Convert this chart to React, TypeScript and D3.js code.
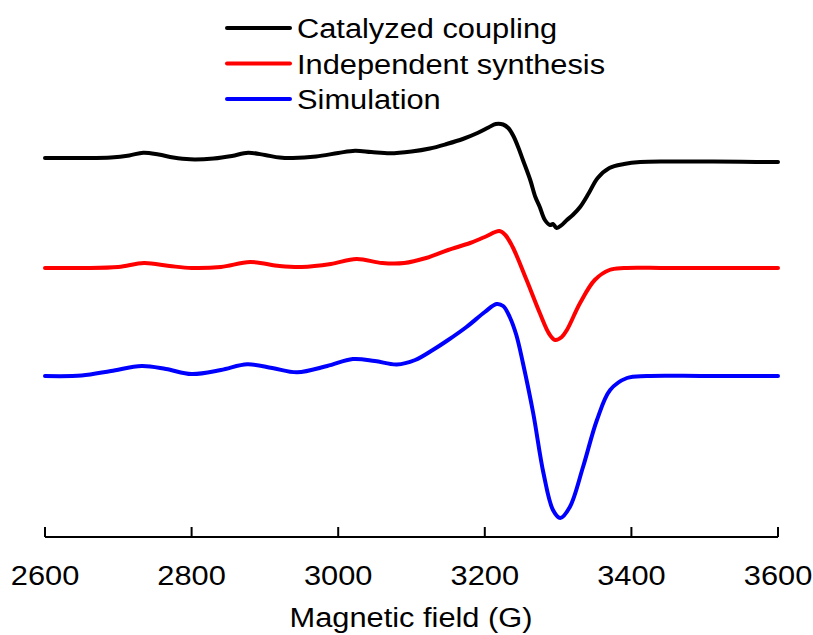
import React from "react";
import * as d3 from "d3";

const W = 813;
const H = 635;

// Magnetic field (G) axis ticks
const xTicks = [2600, 2800, 3000, 3200, 3400, 3600];

// Catalyzed coupling (field G, intensity a.u.)
const fieldBlack = [2600, 2650, 2690, 2715, 2734, 2755, 2775, 2798, 2830, 2855, 2877, 2900, 2920, 2938, 2970, 3000, 3023, 3045, 3071, 3100, 3125, 3148, 3170, 3190, 3205, 3215, 3225, 3232, 3239, 3246, 3252, 3262, 3269, 3275, 3282, 3289, 3293, 3298, 3305, 3312, 3320, 3330, 3342, 3354, 3370, 3390, 3412, 3450, 3500, 3550, 3600];
const sigBlack = [0, 0, 0.5, 2.5, 5.3, 3.5, 0.5, -1.3, -0.5, 2, 5.3, 3, 0.5, 0, 1.5, 5, 7.3, 6, 4.7, 6.5, 9.5, 14, 19, 25, 30.5, 34, 33.5, 30, 22, 10, -2, -22, -39, -49, -62, -67, -66, -70, -67, -62, -57, -49, -35, -20, -10, -6, -4, -3.5, -3.5, -3.8, -4];

// Independent synthesis
const fieldRed = [2600, 2650, 2700, 2735, 2770, 2800, 2840, 2880, 2920, 2950, 2990, 3025, 3060, 3090, 3120, 3150, 3180, 3200, 3220, 3228, 3238, 3257, 3275, 3288, 3296, 3305, 3312, 3330, 3350, 3370, 3390, 3450, 3600];
const sigRed = [0, 0, 1, 5, 2, 0, 1, 6, 2, 1, 4, 9, 5, 5, 10, 18, 25, 31, 37, 33, 21, -12, -45, -66, -72, -69, -62, -35, -12, -2, 0, 0, 0];

// Simulation
const fieldBlue = [2600, 2650, 2690, 2732, 2765, 2800, 2840, 2876, 2910, 2944, 2985, 3020, 3050, 3080, 3105, 3129, 3150, 3175, 3200, 3216, 3225, 3234, 3243, 3252, 3266, 3280, 3293, 3303, 3316, 3334, 3353, 3371, 3394, 3421, 3500, 3600];
const sigBlue = [0, 0.5, 5, 10, 7, 2, 6, 11.7, 8, 3.7, 10, 17, 15, 11.5, 16, 26, 36, 49, 64, 72, 70, 59, 41, 13, -37, -97, -134, -142, -131, -91, -44, -14, -2, 0, 0, 0];

const seriesNames = ["Catalyzed coupling", "Independent synthesis", "Simulation"];
const seriesColors = ["#000000", "#ff0000", "#0000ff"];
const seriesOffsets = [379, 269, 161];

export default function App() {
  const x = d3.scaleLinear().domain([2600, 3600]).range([45, 778]);
  const y = d3.scaleLinear().domain([0, 537]).range([537, 0]);

  const series = [
    { f: fieldBlack, s: sigBlack },
    { f: fieldRed, s: sigRed },
    { f: fieldBlue, s: sigBlue },
  ];

  const line = d3
    .line<[number, number]>()
    .x((d) => x(d[0]))
    .y((d) => y(d[1]))
    .curve(d3.curveCatmullRom.alpha(0.5));

  const axisY = 537;
  const font = "Arial, 'Liberation Sans', sans-serif";

  return (
    <svg width={W} height={H} style={{ position: "absolute", left: 0, top: 0, background: "#fff" }}>
      {series.map((sr, i) => {
        const pts: [number, number][] = sr.f.map((g, k) => [g, sr.s[k] + seriesOffsets[i]]);
        return (
          <path
            key={i}
            d={line(pts) || ""}
            fill="none"
            stroke={seriesColors[i]}
            strokeWidth={4}
            strokeLinejoin="round"
            strokeLinecap="round"
          />
        );
      })}

      {/* x axis */}
      <line x1={x(2600)} x2={x(3600)} y1={axisY} y2={axisY} stroke="#000" strokeWidth={2} />
      {xTicks.map((t) => (
        <g key={t}>
          <line x1={x(t)} x2={x(t)} y1={axisY} y2={axisY - 10} stroke="#000" strokeWidth={2} />
          <text
            transform={`translate(${x(t)},585) scale(1.1,1)`}
            textAnchor="middle"
            fontFamily={font}
            fontSize={28}
            fill="#000"
          >
            {t}
          </text>
        </g>
      ))}
      <text
        transform={`translate(411,627) scale(1.1,1)`}
        textAnchor="middle"
        fontFamily={font}
        fontSize={28}
        fill="#000"
      >
        Magnetic field (G)
      </text>

      {/* legend */}
      {seriesNames.map((n, i) => {
        const ly = 28 + i * 35.5;
        return (
          <g key={n}>
            <line x1={227} x2={290} y1={ly} y2={ly} stroke={seriesColors[i]} strokeWidth={4} strokeLinecap="round" />
            <text
              transform={`translate(297,${ly + 10}) scale(1.1,1)`}
              fontFamily={font}
              fontSize={28}
              fill="#000"
            >
              {n}
            </text>
          </g>
        );
      })}
    </svg>
  );
}
